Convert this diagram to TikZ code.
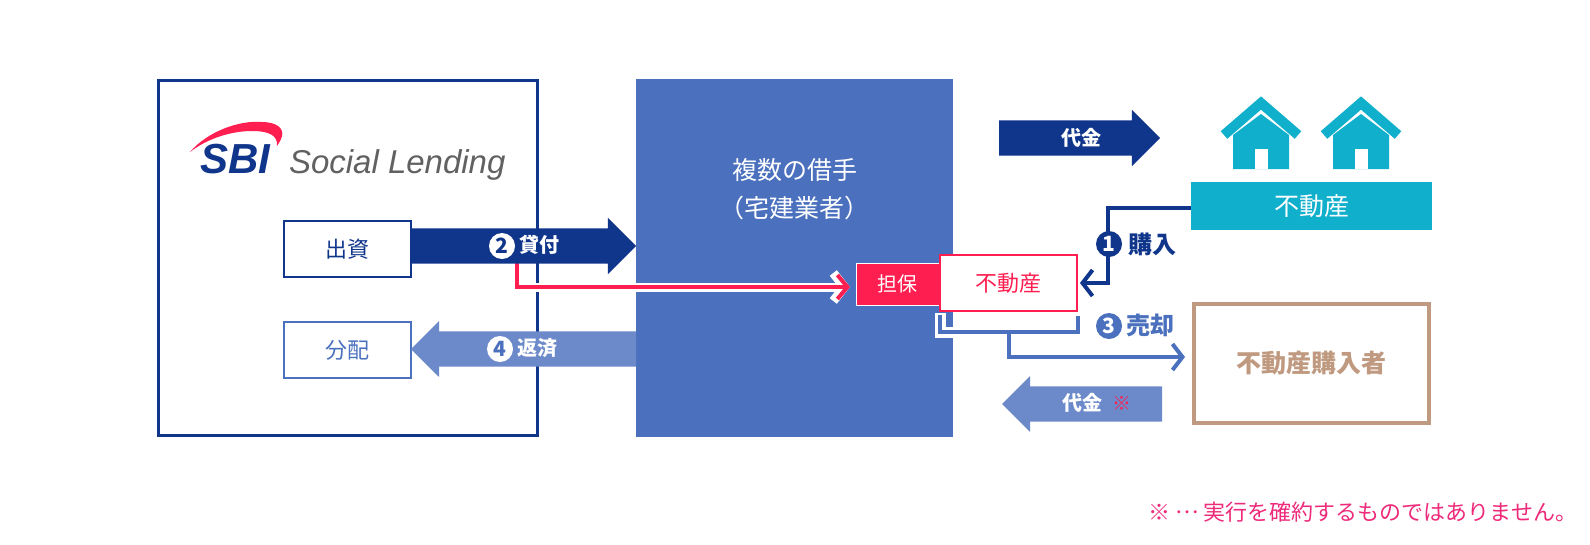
\documentclass[tikz,border=0pt]{standalone}
\usepackage{fontspec}
\setmainfont{Noto Sans CJK JP}
\newfontfamily\arialfont{Liberation Sans}
\usetikzlibrary{arrows.meta,shapes.arrows,calc}
\definecolor{navy}{HTML}{10368C}
\definecolor{midblue}{HTML}{4A70BE}
\definecolor{dither}{HTML}{6C8ACA}
\definecolor{teal}{HTML}{10AFCC}
\definecolor{rose}{HTML}{FF1E50}
\definecolor{notepink}{HTML}{EE2A7B}
\definecolor{tan}{HTML}{C09A80}
\newcommand{\fs}[1]{\fontsize{#1}{#1}\selectfont}
\newcommand{\shaft}{\rule{0pt}{35pt}}
\tikzset{
  x=1pt,y=-1pt,
  every node/.style={inner sep=0pt,outer sep=0pt,align=center},
  labelbox/.style={draw=#1,text=#1,fill=white,line width=1.2pt,minimum width=127pt,minimum height=56pt,font=\fs{22}},
  fatarrow/.style={single arrow,fill=#1,anchor=tip,single arrow head extend=10.5pt,single arrow tip angle=90,inner sep=0pt},
  arrowtext/.style={text=white,font=\bfseries\fs{20}},
  numcircle/.style={circle,minimum size=26pt,font=\bfseries\fs{21}},
  steplabel/.style={font=\bfseries\fs{24}},
  pics/house/.style={code={
    \fill[teal] (-28,73) -- (-28,39) -- (0,18) -- (28,39) -- (28,73) -- cycle;
    \fill[white] (-6.5,73) -- (-6.5,53) -- (6.5,53) -- (6.5,73) -- cycle;
    \draw[teal,line width=10pt] (-37,39) -- (0,7) -- (37,39);
  }},
}
\begin{document}
\begin{tikzpicture}
\useasboundingbox[fill=white] (0,0) rectangle (1590,544);

% main containers
\node[draw=navy,line width=3pt,fill=white,minimum width=379.5pt,minimum height=355pt] (lender) at (348,258) {};
\node[fill=midblue,minimum width=317pt,minimum height=358pt] (borrower) at (794.5,258) {};
\node[text=white,font=\fontsize{25}{38}\selectfont] (borrowertext) at (794.5,189) {複数の借手\\（宅建業者）};

% logo
\fill[rose] (190,152) .. controls (208,131) and (240,120) .. (262,122)
  .. controls (276,122) and (284,128) .. (282,136)
  .. controls (281,140) and (279,143) .. (277,146)
  .. controls (278,136) and (270,131) .. (252,131)
  .. controls (232,131) and (208,138) .. (190,152) -- cycle;
\node[anchor=base west,text=navy,font=\arialfont\bfseries\itshape\fs{42}] (sbi) at (200,173) {SBI};
\node[anchor=base west,text=black!62,font=\arialfont\itshape\fs{33}] (social) at (289,173) {Social Lending};

% boxes in lender
\node[labelbox=navy] (invest) at (347.5,249) {出資};
\node[labelbox=midblue] (dist) at (347.5,350) {分配};

% security boxes
\node[draw=white,line width=1pt,fill=rose,text=white,font=\fs{20},minimum width=83pt,minimum height=42pt] (collat) at (897.5,284) {担保};
\coordinate (collatin) at (850,287);
\coordinate (pinkstart) at (517,255);
\coordinate (pinkbend) at (517,287);
\draw[white,line width=9pt,-{Straight Barb[length=11pt,width=28pt]}] (pinkbend) ++(-1,0) -- (collatin);
\draw[white,line width=9pt] (517,265) -- (pinkbend);
\draw[rose,line width=4pt,-{Straight Barb[length=10pt,width=24pt]}] (pinkstart) -- (pinkbend) -- (collatin);

% big arrows
\node[fatarrow=navy,minimum height=225pt] (loan) at (636,246) {\shaft};
\node[fatarrow=dither,shape border rotate=180,minimum height=225pt] (repay) at (411,349) {\shaft};
\node[fatarrow=navy,minimum height=161pt] (pay1) at (1160,138) {\shaft};
\node[fatarrow=dither,shape border rotate=180,minimum height=160pt] (pay2) at (1002,404) {\shaft};

\node[numcircle,fill=white,text=navy] (n2) at (502,246) {2};
\node[arrowtext] (loantext) at (539,245) {貸付};
\node[numcircle,fill=white,text=midblue] (n4) at (500,349) {4};
\node[arrowtext] (repaytext) at (537,348) {返済};
\node[arrowtext] (pay1text) at (1081,138) {代金};
\node[arrowtext] (pay2text) at (1082,403) {代金};
\node[text=rose,font=\bfseries\fs{19}] (pay2mark) at (1122,403) {※};

% property holder
\node[draw=rose,line width=1.1pt,fill=white,text=rose,font=\fs{22},minimum width=137pt,minimum height=56pt] (prop) at (1008.5,283) {不動産};

% real estate
\pic at (1261,96) {house};
\pic at (1361,96) {house};
\node[fill=teal,text=white,font=\fs{25},minimum width=241pt,minimum height=48pt] (estate) at (1311.5,206) {不動産};

% buyer
\node[draw=tan,line width=4pt,fill=white,text=tan,font=\bfseries\fs{25},minimum width=235pt,minimum height=119pt] (buyer) at (1311,363) {不動産購入者};

% connector 1
\coordinate (purchin) at (1080,283);
\coordinate (purchbend) at (1108,283);
\coordinate (purchtop) at (1108,208);
\draw[navy,line width=4pt,-{Straight Barb[length=10pt,width=26pt]}] (estate.west |- purchtop) -- (purchtop) -- (purchbend) -- (purchin);
\node[numcircle,fill=navy,text=white] (n1) at (1109,244) {1};
\node[steplabel,text=navy] (buytext) at (1152,244) {購入};

% connector 3
\coordinate (brL) at (940,315);
\coordinate (brLb) at (940,332);
\coordinate (brRb) at (1078,332);
\coordinate (brR) at (1078,316);
\coordinate (brM) at (1009,332);
\coordinate (brMb) at (1009,357);
\coordinate (sellin) at (1185,357);
\draw[white,line width=11pt] (940,312.5) -- (brLb) -- (953,332);
\draw[midblue,line width=4pt] (brL) -- (brLb) -- (brRb) -- (brR);
\draw[midblue,line width=4pt,-{Straight Barb[length=10pt,width=26pt]}] (brM) -- (brMb) -- (sellin);
\node[numcircle,fill=midblue,text=white] (n3) at (1109,326) {3};
\node[steplabel,text=midblue] (selltext) at (1150,325) {売却};

% footnote
\node[anchor=east,text=notepink,font=\fs{22}] (note) at (1577,512) {※\hspace{5.5pt}\makebox[22pt]{\raisebox{6.5pt}{…}}\hspace{5.5pt}実行を確約するものではありません。};
\end{tikzpicture}
\end{document}
